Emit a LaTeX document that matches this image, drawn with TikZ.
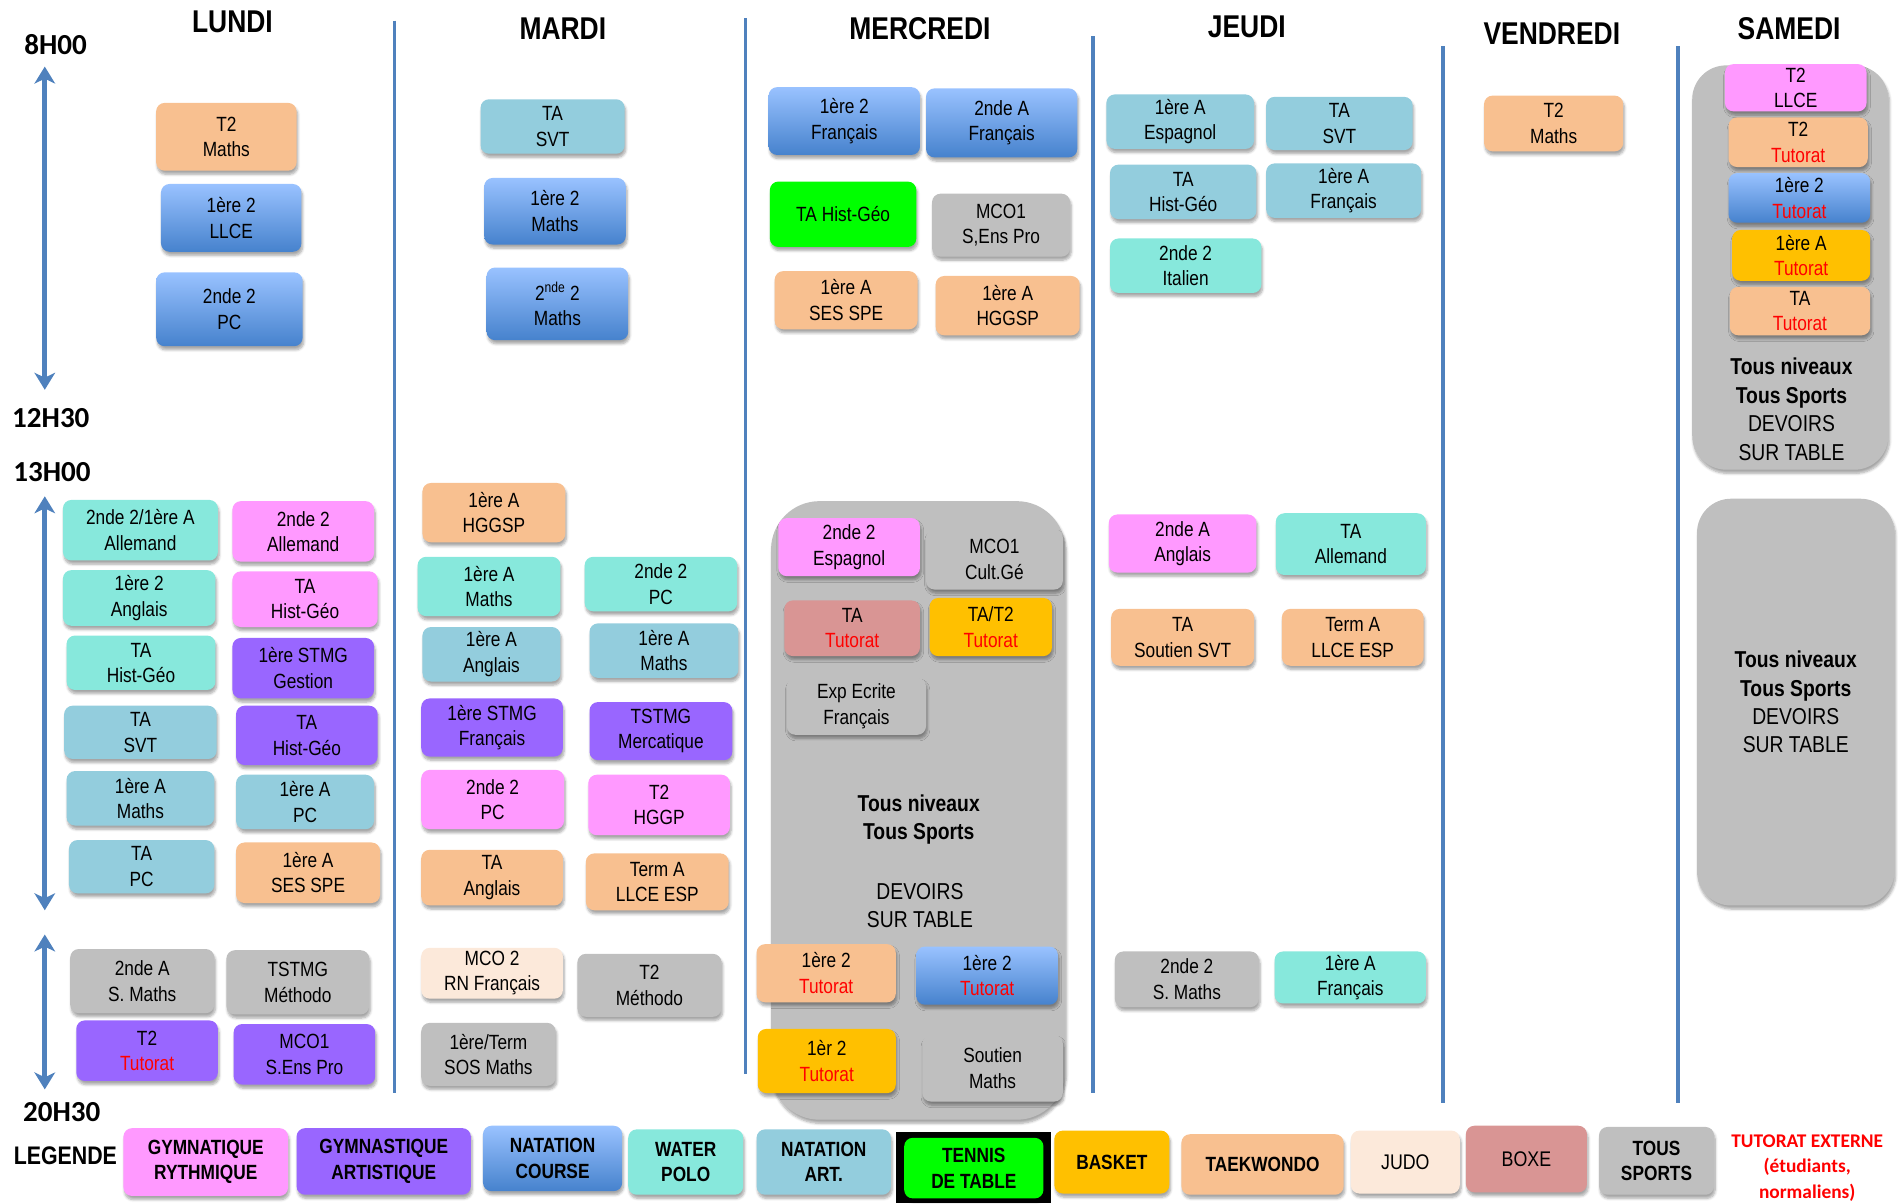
\documentclass[tikz,border=0pt]{standalone}
\usepackage{fontspec}
\setmainfont[FakeStretch=0.84]{Liberation Sans}
\newfontfamily\heurefont{Carlito}
\usepackage{tikz}
\usetikzlibrary{arrows.meta,shadows.blur}
\definecolor{GR}{RGB}{255,153,255}
\definecolor{GA}{RGB}{153,102,255}
\definecolor{NCh}{RGB}{153,194,255}
\definecolor{NCb}{RGB}{70,130,205}
\definecolor{WP}{RGB}{135,232,220}
\definecolor{NA}{RGB}{147,205,221}
\definecolor{TT}{RGB}{0,255,0}
\definecolor{BK}{RGB}{255,192,0}
\definecolor{TK}{RGB}{248,192,144}
\definecolor{JU}{RGB}{252,233,218}
\definecolor{BX}{RGB}{217,149,148}
\definecolor{TS}{RGB}{191,191,191}
\definecolor{trait}{RGB}{79,129,189}
\definecolor{tuto}{RGB}{255,0,0}
\newcommand{\tuto}{\textcolor{tuto}{Tutorat}}
\newcommand{\cours}[7]{\node[cours,#2,minimum width={(#5-#3)*1pt},minimum height={(#6-#4)*1pt}] (#1) at ({(#3+#5)/2},{(#4+#6)/2}) {#7};}
\tikzset{
  cours/.style={rounded corners=7pt, inner sep=0pt, align=center, font=\fontsize{17}{21}\selectfont,
    blur shadow={shadow xshift=1pt, shadow yshift=-3pt, shadow blur steps=6, shadow opacity=35}},
  gym/.style={fill=GR}, gymart/.style={fill=GA}, nat/.style={top color=NCh, bottom color=NCb},
  water/.style={fill=WP}, natart/.style={fill=NA}, tennis/.style={fill=TT}, basket/.style={fill=BK},
  taekw/.style={fill=TK}, judo/.style={fill=JU}, boxe/.style={fill=BX}, tous/.style={fill=TS},
  fond/.style={fill=TS, rounded corners=40pt},
  fondtexte/.style={align=center, inner sep=0pt, font=\fontsize{19}{23.5}\selectfont},
  legende/.style={font=\bfseries\fontsize{17}{21}\selectfont},
  legfin/.style={font=\fontsize{17.5}{21}\selectfont},
  jour/.style={font=\bfseries\fontsize{26}{26}\selectfont},
  heure/.style={font=\heurefont\bfseries\fontsize{24}{24}\selectfont},
  fleche/.style={trait, line width=4pt, {Stealth[length=14pt,width=17pt,inset=4pt]}-{Stealth[length=14pt,width=17pt,inset=4pt]}},
  sep/.style={trait, line width=3pt}
}
\begin{document}
\begin{tikzpicture}[x=1pt,y=-1pt]
\useasboundingbox (0,0) rectangle (1568,994);
\foreach \x/\h/\b in {326/17/903, 616/15/887, 903/30/903, 1192/38/911, 1386/38/911}{
  \draw[sep] (\x,\h) -- (\x,\b);
}
\node[jour] (lundi) at (192,18) {LUNDI};
\node[jour] (mardi) at (465,24) {MARDI};
\node[jour] (mercredi) at (760,24) {MERCREDI};
\node[jour] (jeudi) at (1030,22) {JEUDI};
\node[jour] (vendredi) at (1282,28) {VENDREDI};
\node[jour] (samedi) at (1478,24) {SAMEDI};
\node[heure] (h8) at (46,37) {8H00};
\node[heure] (h12) at (42,345) {12H30};
\node[heure] (h13) at (43,390) {13H00};
\node[heure] (h20) at (51,919) {20H30};
\node[jour,font=\bfseries\fontsize{21}{21}\selectfont] (leg) at (54,955) {LEGENDE};
\coordinate (a1) at (37,55); \coordinate (a2) at (37,322);
\coordinate (a3) at (37,410); \coordinate (a4) at (37,752);
\coordinate (a5) at (37,772); \coordinate (a6) at (37,900);
\draw[fleche] (a1) -- (a2);
\draw[fleche] (a3) -- (a4);
\draw[fleche] (a5) -- (a6);
\cours{lu1}{taekw}{129}{85}{245}{141}{T2\\Maths}
\cours{lu2}{nat}{133}{152}{249}{208}{1ère 2\\LLCE}
\cours{lu3}{nat}{129}{225}{250}{286}{2nde 2\\PC}
\cours{lu4}{water}{52}{413}{180}{463}{2nde 2/1ère A\\Allemand}
\cours{lu5}{gym}{192}{414}{309}{464}{2nde 2\\Allemand}
\cours{lu6}{water}{52}{471}{178}{517}{1ère 2\\Anglais}
\cours{lu7}{gym}{192}{472}{312}{518}{TA\\Hist-Géo}
\cours{lu8}{water}{55}{525}{178}{570}{TA\\Hist-Géo}
\cours{lu9}{gymart}{192}{527}{309}{577}{1ère STMG\\Gestion}
\cours{lu10}{natart}{53}{583}{179}{627}{TA\\SVT}
\cours{lu11}{gymart}{195}{583}{312}{632}{TA\\Hist-Géo}
\cours{lu12}{natart}{55}{637}{177}{682}{1ère A\\Maths}
\cours{lu13}{natart}{195}{640}{309}{685}{1ère A\\PC}
\cours{lu14}{natart}{57}{694}{177}{738}{TA\\PC}
\cours{lu15}{taekw}{195}{696}{314}{746}{1ère A\\SES SPE}
\cours{lu16}{tous}{58}{784}{177}{837}{2nde A\\S. Maths}
\cours{lu17}{tous}{187}{785}{305}{838}{TSTMG\\Méthodo}
\cours{lu18}{gymart}{63}{843}{180}{893}{T2\\\tuto}
\cours{lu19}{gymart}{193}{846}{310}{896}{MCO1\\S.Ens Pro}
\cours{ma1}{natart}{397}{82}{516}{127}{TA\\SVT}
\cours{ma2}{nat}{400}{147}{517}{202}{1ère 2\\Maths}
\cours{ma3}{nat}{402}{221}{519}{281}{2\textsuperscript{nde} 2\\Maths}
\cours{ma4}{taekw}{349}{399}{467}{448}{1ère A\\HGGSP}
\cours{ma5}{water}{345}{460}{463}{509}{1ère A\\Maths}
\cours{ma6}{water}{483}{460}{609}{505}{2nde 2\\PC}
\cours{ma7}{natart}{349}{518}{463}{563}{1ère A\\Anglais}
\cours{ma8}{natart}{487}{515}{610}{560}{1ère A\\Maths}
\cours{ma9}{gymart}{348}{577}{465}{625}{1ère STMG\\Français}
\cours{ma10}{gymart}{487}{580}{605}{628}{TSTMG\\Mercatique}
\cours{ma11}{gym}{348}{636}{466}{685}{2nde 2\\PC}
\cours{ma12}{gym}{486}{640}{603}{690}{T2\\HGGP}
\cours{ma13}{taekw}{348}{702}{465}{748}{TA\\Anglais}
\cours{ma14}{taekw}{484}{705}{602}{752}{Term A\\LLCE ESP}
\cours{ma15}{judo}{348}{783}{465}{825}{MCO 2\\RN Français}
\cours{ma16}{tous}{477}{788}{596}{840}{T2\\Méthodo}
\cours{ma17}{tous}{348}{845}{459}{897}{1ère/Term\\SOS Maths}
\cours{me1}{nat}{635}{72}{760}{128}{1ère 2\\Français}
\cours{me2}{nat}{765}{73}{890}{130}{2nde A\\Français}
\cours{me3}{tennis}{636}{150}{757}{204}{TA Hist-Géo}
\cours{me4}{tous}{770}{160}{884}{212}{MCO1\\S,Ens Pro}
\cours{me5}{taekw}{640}{224}{758}{272}{1ère A\\SES SPE}
\cours{me6}{taekw}{773}{228}{892}{277}{1ère A\\HGGSP}
\cours{mefond}{fond}{637}{414}{880}{925}{}
\cours{me7}{gym}{643}{428}{760}{476}{2nde 2\\Espagnol}
\cours{me8}{tous}{765}{437}{878}{487}{MCO1\\Cult.Gé}
\cours{me9}{boxe}{648}{496}{760}{542}{TA\\\tuto}
\cours{me10}{basket}{768}{494}{869}{542}{TA/T2\\\tuto}
\cours{me11}{tous}{650}{560}{765}{607}{Exp Ecrite\\Français}
\node[fondtexte] (me12) at (759,677) {\textbf{Tous niveaux}\\\textbf{Tous Sports}};
\node[fondtexte] (me13) at (760,748) {DEVOIRS\\SUR TABLE};
\cours{me14}{taekw}{625}{780}{740}{828}{1ère 2\\\tuto}
\cours{me15}{nat}{757}{782}{874}{830}{1ère 2\\\tuto}
\cours{me16}{basket}{626}{850}{740}{903}{1èr 2\\\tuto}
\cours{me17}{tous}{762}{855}{878}{910}{Soutien\\Maths}
\cours{je1}{natart}{914}{78}{1036}{123}{1ère A\\Espagnol}
\cours{je2}{natart}{1046}{80}{1167}{124}{TA\\SVT}
\cours{je3}{natart}{917}{136}{1038}{181}{TA\\Hist-Géo}
\cours{je4}{natart}{1046}{135}{1174}{180}{1ère A\\Français}
\cours{je5}{water}{917}{197}{1042}{242}{2nde 2\\Italien}
\cours{je6}{gym}{916}{425}{1038}{473}{2nde A\\Anglais}
\cours{je7}{water}{1054}{424}{1178}{475}{TA\\Allemand}
\cours{je8}{taekw}{918}{503}{1036}{550}{TA\\Soutien SVT}
\cours{je9}{taekw}{1059}{503}{1176}{550}{Term A\\LLCE ESP}
\cours{je10}{tous}{921}{786}{1040}{832}{2nde 2\\S. Maths}
\cours{je11}{water}{1053}{786}{1178}{829}{1ère A\\Français}
\cours{ve1}{taekw}{1226}{79}{1341}{125}{T2\\Maths}
\cours{safond}{fond,rounded corners=28pt}{1398}{54}{1560}{388}{}
\cours{sa1}{gym}{1425}{53}{1542}{92}{T2\\LLCE}
\cours{sa2}{taekw}{1428}{97}{1543}{138}{T2\\\tuto}
\cours{sa3}{nat}{1428}{143}{1545}{184}{1ère 2\\\tuto}
\cours{sa4}{basket}{1431}{190}{1545}{232}{1ère A\\\tuto}
\cours{sa5}{taekw}{1429}{237}{1545}{277}{TA\\\tuto}
\node[fondtexte] (sa6) at (1480,338) {\textbf{Tous niveaux}\\\textbf{Tous Sports}\\DEVOIRS\\SUR TABLE};
\cours{sa7}{fond,rounded corners=28pt,font=\fontsize{19}{23.5}\selectfont}{1402}{412}{1565}{748}{\textbf{Tous niveaux}\\\textbf{Tous Sports}\\DEVOIRS\\SUR TABLE}
\cours{le1}{gym,legende}{102}{932}{238}{988}{GYMNATIQUE\\RYTHMIQUE}
\cours{le2}{gymart,legende}{245}{932}{389}{987}{GYMNASTIQUE\\ARTISTIQUE}
\cours{le3}{nat,legende}{399}{930}{514}{984}{NATATION\\COURSE}
\cours{le4}{water,legende}{519}{933}{614}{987}{WATER\\POLO}
\cours{le5}{natart,legende}{625}{933}{736}{987}{NATATION\\ART.}
\fill[black] (740,935) rectangle (868,994);
\cours{le6}{tennis,legende}{747}{940}{862}{990}{TENNIS\\DE TABLE}
\cours{le7}{basket,legende}{871}{934}{966}{986}{BASKET}
\cours{le8}{taekw,legende}{976}{937}{1110}{987}{TAEKWONDO}
\cours{le9}{judo,legfin}{1116}{934}{1206}{986}{JUDO}
\cours{le10}{boxe,legfin}{1211}{930}{1311}{985}{BOXE}
\cours{le11}{tous,legende}{1321}{931}{1416}{987}{TOUS\\SPORTS}
\node[align=center, text=tuto, font=\heurefont\bfseries\fontsize{16}{21}\selectfont] (le12) at (1493,965) {TUTORAT EXTERNE\\(étudiants,\\normaliens)};
\end{tikzpicture}
\end{document}
